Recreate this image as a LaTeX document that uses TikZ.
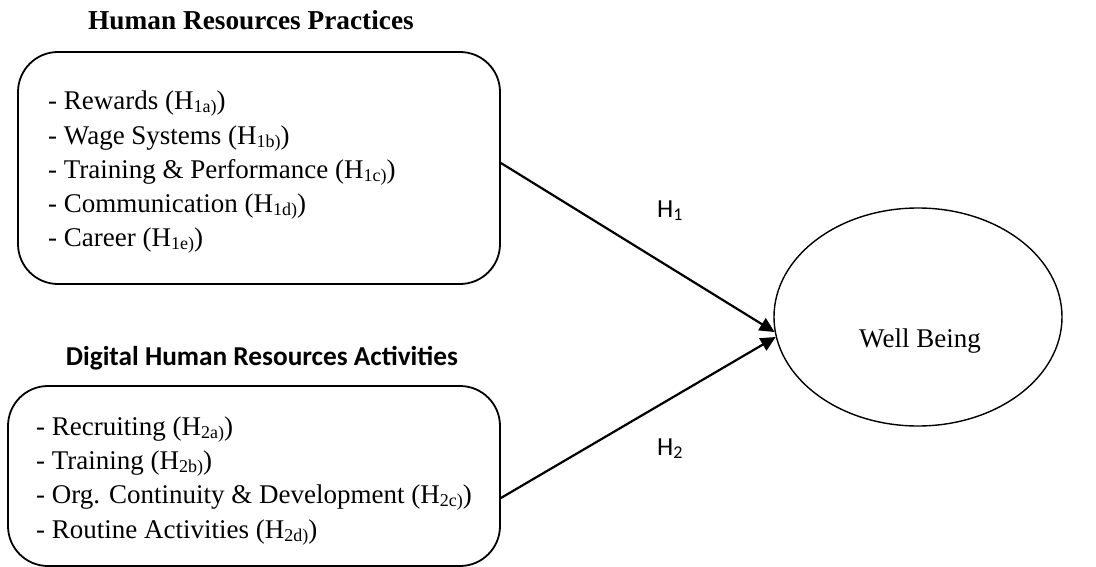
\documentclass[tikz,border=0pt]{standalone}
\usepackage{fontspec}
\setmainfont{Liberation Serif}
\newfontfamily\calib{Carlito}
\usetikzlibrary{arrows.meta,shapes.geometric}
\newcommand\sbs[1]{\raisebox{-3pt}{\fontsize{18}{18}\selectfont #1}}
\begin{document}
\begin{tikzpicture}[x=1pt,y=-1pt,
  boxst/.style={draw,line width=1.8pt,rounded corners=40pt,inner sep=0pt},
  itemst/.style={anchor=base west,inner sep=0pt,align=left,font=\fontsize{27}{34.3}\selectfont},
  arr/.style={line width=2.2pt,-{Triangle[length=15pt,width=14pt]}},
  lab/.style={anchor=base west,inner sep=0pt,font=\calib\fontsize{26}{26}\selectfont}]
\useasboundingbox (0,0) rectangle (1096,567);
\node[anchor=base,inner sep=0pt,font=\bfseries\fontsize{27.3}{27.3}\selectfont] (t1) at (251,30) {Human Resources Practices};
\node[boxst,minimum width=482pt,minimum height=232pt] (box1) at (259,168) {};
\node[itemst] (l1) at (48,247) {- Rewards (H\sbs{1a)})\\- Wage Systems (H\sbs{1b)})\\- Training \& Performance (H\sbs{1c)})\\- Communication (H\sbs{1d)})\\- Career (H\sbs{1e)})};
\node[anchor=base,inner sep=0pt,font=\calib\bfseries\fontsize{27.3}{27.3}\selectfont] (t2) at (262,365) {Digital Human Resources Activities};
\node[boxst,minimum width=492pt,minimum height=180pt] (box2) at (254,476) {};
\node[itemst] (l2) at (36,538) {- Recruiting (H\sbs{2a)})\\- Training (H\sbs{2b)})\\- Org. Continuity \& Development (H\sbs{2c)})\\- Routine Activities (H\sbs{2d)})};
\node[draw,ellipse,line width=1.4pt,minimum width=288pt,minimum height=218pt,inner sep=0pt] (well) at (918,317) {};
\node[anchor=base,inner sep=0pt,font=\fontsize{27}{27}\selectfont] (wt) at (920,347) {Well Being};
\draw[arr] ([yshift=5pt]box1.east) -- (well.186);
\draw[arr] ([yshift=-22pt]box2.east) -- (well.188);
\node[lab] (h1) at (657,218) {H\sbs{1}};
\node[lab] (h2) at (657,455) {H\sbs{2}};
\end{tikzpicture}
\end{document}
